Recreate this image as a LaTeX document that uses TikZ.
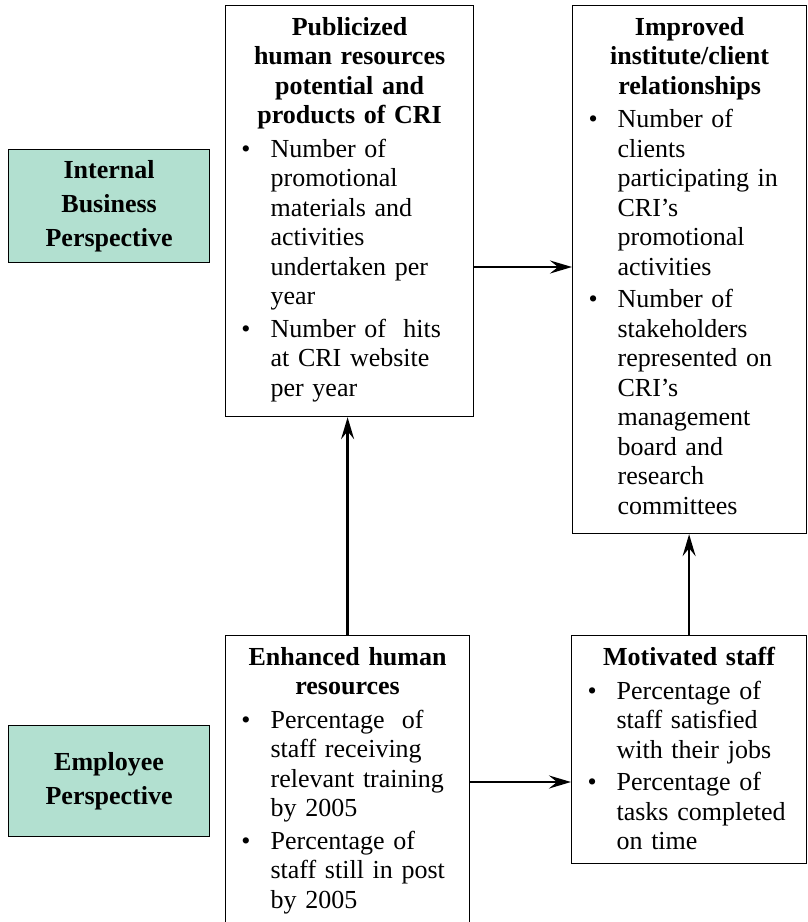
\documentclass[tikz,border=0pt]{standalone}
\usepackage{fontspec}
\setmainfont{Liberation Serif}
\usepackage{enumitem}
\usetikzlibrary{arrows.meta}
\usetikzlibrary{positioning}

\definecolor{perspgreen}{RGB}{178,224,208}

\setlist[itemize]{label=\textbullet, leftmargin=33pt, labelsep=20pt, topsep=4pt, partopsep=0pt, itemsep=3pt, parsep=0pt}

\tikzset{
  goal/.style={draw, line width=1.2pt, anchor=north west, inner sep=0pt},
  persp/.style={draw, line width=1.2pt, fill=perspgreen, anchor=north west, inner sep=0pt,
    align=center, font=\fontsize{26}{34}\selectfont\bfseries},
  goaltext/.style={anchor=north, inner sep=0pt, align=left, font=\fontsize{26}{29.5}\selectfont},
  link/.style={line width=2.5pt, -{Stealth[length=22pt,width=13pt,inset=8pt]}}
}

\begin{document}
\begin{tikzpicture}[x=1pt,y=-1pt]
\useasboundingbox (0,0) rectangle (807,922);

% perspectives
\node[persp, minimum width=201pt, minimum height=113pt] (ibp) at (8,149) {Internal\\Business\\Perspective};
\node[persp, minimum width=201pt, minimum height=111pt] (emp) at (8,725) {Employee\\Perspective};

% goal boxes
\node[goal, minimum width=248pt, minimum height=411pt] (pub) at (225,5) {};
\node[goal, minimum width=234pt, minimum height=528pt] (imp) at (572,5) {};
\node[goal, minimum width=244pt, minimum height=300pt] (enh) at (225,635) {};
\node[goal, minimum width=235pt, minimum height=228pt] (mot) at (571,635) {};

\node[goaltext, text width=224pt] (pubtext) at ([yshift=-12pt]pub.north) {%
{\centering\bfseries Publicized\\human resources\\potential and\\products of CRI\par}
\begin{itemize}
\item Number of\\promotional\\materials and\\activities\\undertaken per\\year
\item Number of\ \ hits\\at CRI website\\per year
\end{itemize}};

\node[goaltext, text width=210pt] (imptext) at ([yshift=-12pt]imp.north) {%
{\centering\bfseries Improved\\institute/client\\relationships\par}
\begin{itemize}
\item Number of\\clients\\participating in\\CRI’s\\promotional\\activities
\item Number of\\stakeholders\\represented on\\CRI’s\\management\\board and\\research\\committees
\end{itemize}};

\node[goaltext, text width=220pt] (enhtext) at ([yshift=-12pt]enh.north) {%
{\centering\bfseries Enhanced human\\resources\par}
\begin{itemize}
\item Percentage\ \ of\\staff receiving\\relevant training\\by 2005
\item Percentage of\\staff still in post\\by 2005
\end{itemize}};

\node[goaltext, text width=211pt] (mottext) at ([yshift=-12pt]mot.north) {%
{\centering\bfseries Motivated staff\par}
\begin{itemize}
\item Percentage of\\staff satisfied\\with their jobs
\item Percentage of\\tasks completed\\on time
\end{itemize}};

% links
\coordinate (row1) at (0,267);
\coordinate (row2) at (0,782);
\draw[link] (pub.east |- row1) -- (imp.west |- row1);
\draw[link] (enh.east |- row2) -- (mot.west |- row2);
\draw[link] (enh.north) -- (enh.north |- pub.south);
\draw[link] (mot.north) -- (mot.north |- imp.south);

\end{tikzpicture}
\end{document}
